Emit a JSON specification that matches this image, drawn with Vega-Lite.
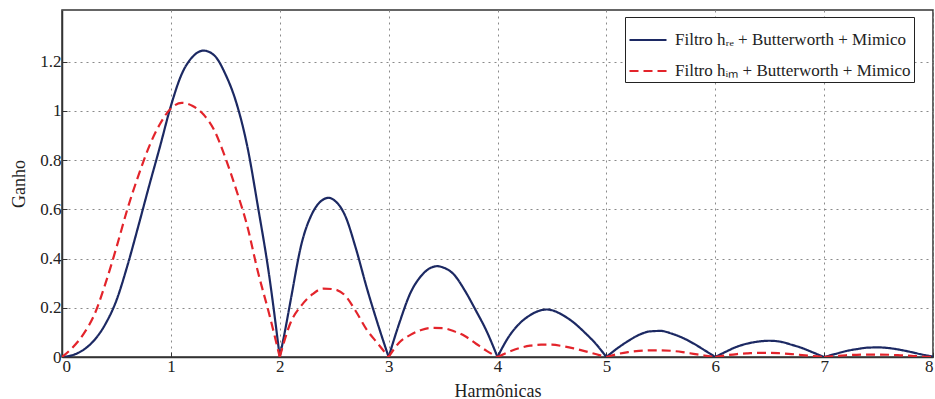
{
  "$schema": "https://vega.github.io/schema/vega-lite/v6.json",
  "width": 871,
  "height": 347,
  "padding": {"left": 62, "top": 10, "right": 2, "bottom": 42},
  "autosize": {"type": "none"},
  "background": "white",
  "config": {
    "font": "Liberation Serif",
    "view": {"stroke": "#333333", "strokeWidth": 1.5},
    "axis": {
      "labelFont": "Liberation Serif",
      "titleFont": "Liberation Serif",
      "labelFontSize": 17,
      "titleFontSize": 18,
      "titleFontWeight": "normal",
      "labelColor": "#222222",
      "titleColor": "#222222",
      "domainColor": "#333333",
      "domainWidth": 1.5,
      "tickColor": "#333333",
      "tickSize": -5,
      "gridColor": "#8a8a8a",
      "gridDash": [2, 4],
      "gridWidth": 1
    }
  },
  "data": {
    "values": [
      {"h": 0.0, "g": 0.0, "s": "re", "k": 1}, {"h": 0.1, "g": 0.008, "s": "re", "k": 1}, {"h": 0.2, "g": 0.03, "s": "re", "k": 1}, {"h": 0.3, "g": 0.07, "s": "re", "k": 1}, {"h": 0.4, "g": 0.135, "s": "re", "k": 1},
      {"h": 0.5, "g": 0.23, "s": "re", "k": 1}, {"h": 0.6, "g": 0.37, "s": "re", "k": 1}, {"h": 0.7, "g": 0.53, "s": "re", "k": 1}, {"h": 0.8, "g": 0.695, "s": "re", "k": 1}, {"h": 0.9, "g": 0.855, "s": "re", "k": 1},
      {"h": 1.0, "g": 1.02, "s": "re", "k": 1}, {"h": 1.1, "g": 1.15, "s": "re", "k": 1}, {"h": 1.2, "g": 1.22, "s": "re", "k": 1}, {"h": 1.3, "g": 1.245, "s": "re", "k": 1}, {"h": 1.4, "g": 1.225, "s": "re", "k": 1},
      {"h": 1.5, "g": 1.15, "s": "re", "k": 1}, {"h": 1.6, "g": 1.035, "s": "re", "k": 1}, {"h": 1.7, "g": 0.86, "s": "re", "k": 1}, {"h": 1.8, "g": 0.61, "s": "re", "k": 1}, {"h": 1.9, "g": 0.34, "s": "re", "k": 1},
      {"h": 2.0, "g": 0.0, "s": "re", "k": 1},
      {"h": 2.0, "g": 0.0, "s": "re", "k": 2}, {"h": 2.05, "g": 0.11, "s": "re", "k": 2}, {"h": 2.1, "g": 0.23, "s": "re", "k": 2}, {"h": 2.2, "g": 0.46, "s": "re", "k": 2}, {"h": 2.3, "g": 0.585, "s": "re", "k": 2},
      {"h": 2.4, "g": 0.64, "s": "re", "k": 2}, {"h": 2.45, "g": 0.647, "s": "re", "k": 2}, {"h": 2.5, "g": 0.637, "s": "re", "k": 2}, {"h": 2.6, "g": 0.575, "s": "re", "k": 2}, {"h": 2.7, "g": 0.44, "s": "re", "k": 2},
      {"h": 2.8, "g": 0.28, "s": "re", "k": 2}, {"h": 2.9, "g": 0.135, "s": "re", "k": 2}, {"h": 3.0, "g": 0.0, "s": "re", "k": 2},
      {"h": 3.0, "g": 0.0, "s": "re", "k": 3}, {"h": 3.1, "g": 0.14, "s": "re", "k": 3}, {"h": 3.2, "g": 0.26, "s": "re", "k": 3},
      {"h": 3.3, "g": 0.33, "s": "re", "k": 3}, {"h": 3.4, "g": 0.365, "s": "re", "k": 3}, {"h": 3.45, "g": 0.369, "s": "re", "k": 3}, {"h": 3.5, "g": 0.364, "s": "re", "k": 3}, {"h": 3.6, "g": 0.335, "s": "re", "k": 3},
      {"h": 3.7, "g": 0.27, "s": "re", "k": 3}, {"h": 3.8, "g": 0.19, "s": "re", "k": 3}, {"h": 3.9, "g": 0.105, "s": "re", "k": 3}, {"h": 4.0, "g": 0.0, "s": "re", "k": 3},
      {"h": 4.0, "g": 0.0, "s": "re", "k": 4}, {"h": 4.1, "g": 0.08, "s": "re", "k": 4},
      {"h": 4.2, "g": 0.135, "s": "re", "k": 4}, {"h": 4.3, "g": 0.17, "s": "re", "k": 4}, {"h": 4.4, "g": 0.19, "s": "re", "k": 4}, {"h": 4.45, "g": 0.193, "s": "re", "k": 4}, {"h": 4.5, "g": 0.19, "s": "re", "k": 4},
      {"h": 4.6, "g": 0.17, "s": "re", "k": 4}, {"h": 4.7, "g": 0.14, "s": "re", "k": 4}, {"h": 4.8, "g": 0.1, "s": "re", "k": 4}, {"h": 4.9, "g": 0.055, "s": "re", "k": 4}, {"h": 5.0, "g": 0.0, "s": "re", "k": 4},
      {"h": 5.0, "g": 0.0, "s": "re", "k": 5}, {"h": 5.1, "g": 0.035, "s": "re", "k": 5}, {"h": 5.2, "g": 0.065, "s": "re", "k": 5}, {"h": 5.3, "g": 0.09, "s": "re", "k": 5}, {"h": 5.4, "g": 0.104, "s": "re", "k": 5}, {"h": 5.5, "g": 0.106, "s": "re", "k": 5},
      {"h": 5.6, "g": 0.095, "s": "re", "k": 5}, {"h": 5.7, "g": 0.078, "s": "re", "k": 5}, {"h": 5.8, "g": 0.055, "s": "re", "k": 5}, {"h": 5.9, "g": 0.028, "s": "re", "k": 5}, {"h": 6.0, "g": 0.0, "s": "re", "k": 5},
      {"h": 6.0, "g": 0.0, "s": "re", "k": 6}, {"h": 6.1, "g": 0.022, "s": "re", "k": 6}, {"h": 6.2, "g": 0.042, "s": "re", "k": 6}, {"h": 6.3, "g": 0.055, "s": "re", "k": 6}, {"h": 6.4, "g": 0.063, "s": "re", "k": 6}, {"h": 6.5, "g": 0.066, "s": "re", "k": 6},
      {"h": 6.6, "g": 0.062, "s": "re", "k": 6}, {"h": 6.7, "g": 0.05, "s": "re", "k": 6}, {"h": 6.8, "g": 0.036, "s": "re", "k": 6}, {"h": 6.9, "g": 0.018, "s": "re", "k": 6}, {"h": 7.0, "g": 0.0, "s": "re", "k": 6},
      {"h": 7.0, "g": 0.0, "s": "re", "k": 7}, {"h": 7.1, "g": 0.012, "s": "re", "k": 7}, {"h": 7.2, "g": 0.024, "s": "re", "k": 7}, {"h": 7.3, "g": 0.032, "s": "re", "k": 7}, {"h": 7.4, "g": 0.038, "s": "re", "k": 7}, {"h": 7.5, "g": 0.039, "s": "re", "k": 7},
      {"h": 7.6, "g": 0.036, "s": "re", "k": 7}, {"h": 7.7, "g": 0.029, "s": "re", "k": 7}, {"h": 7.8, "g": 0.02, "s": "re", "k": 7}, {"h": 7.9, "g": 0.01, "s": "re", "k": 7}, {"h": 8.0, "g": 0.002, "s": "re", "k": 7},

      {"h": 0.0, "g": 0.0, "s": "im", "k": 1}, {"h": 0.1, "g": 0.04, "s": "im", "k": 1}, {"h": 0.2, "g": 0.095, "s": "im", "k": 1}, {"h": 0.3, "g": 0.175, "s": "im", "k": 1}, {"h": 0.4, "g": 0.3, "s": "im", "k": 1},
      {"h": 0.5, "g": 0.445, "s": "im", "k": 1}, {"h": 0.6, "g": 0.6, "s": "im", "k": 1}, {"h": 0.7, "g": 0.735, "s": "im", "k": 1}, {"h": 0.8, "g": 0.855, "s": "im", "k": 1}, {"h": 0.9, "g": 0.947, "s": "im", "k": 1},
      {"h": 1.0, "g": 1.01, "s": "im", "k": 1}, {"h": 1.1, "g": 1.033, "s": "im", "k": 1}, {"h": 1.2, "g": 1.02, "s": "im", "k": 1}, {"h": 1.3, "g": 0.985, "s": "im", "k": 1}, {"h": 1.4, "g": 0.92, "s": "im", "k": 1},
      {"h": 1.5, "g": 0.81, "s": "im", "k": 1}, {"h": 1.6, "g": 0.68, "s": "im", "k": 1}, {"h": 1.7, "g": 0.535, "s": "im", "k": 1}, {"h": 1.8, "g": 0.345, "s": "im", "k": 1}, {"h": 1.9, "g": 0.18, "s": "im", "k": 1},
      {"h": 2.0, "g": 0.0, "s": "im", "k": 1},
      {"h": 2.0, "g": 0.0, "s": "im", "k": 2}, {"h": 2.1, "g": 0.14, "s": "im", "k": 2}, {"h": 2.2, "g": 0.21, "s": "im", "k": 2}, {"h": 2.3, "g": 0.255, "s": "im", "k": 2}, {"h": 2.4, "g": 0.278, "s": "im", "k": 2},
      {"h": 2.5, "g": 0.275, "s": "im", "k": 2}, {"h": 2.6, "g": 0.25, "s": "im", "k": 2}, {"h": 2.7, "g": 0.185, "s": "im", "k": 2}, {"h": 2.8, "g": 0.11, "s": "im", "k": 2}, {"h": 2.9, "g": 0.055, "s": "im", "k": 2},
      {"h": 3.0, "g": 0.0, "s": "im", "k": 2},
      {"h": 3.0, "g": 0.0, "s": "im", "k": 3}, {"h": 3.1, "g": 0.06, "s": "im", "k": 3}, {"h": 3.2, "g": 0.09, "s": "im", "k": 3}, {"h": 3.3, "g": 0.11, "s": "im", "k": 3}, {"h": 3.4, "g": 0.118, "s": "im", "k": 3},
      {"h": 3.5, "g": 0.117, "s": "im", "k": 3}, {"h": 3.6, "g": 0.105, "s": "im", "k": 3}, {"h": 3.7, "g": 0.085, "s": "im", "k": 3}, {"h": 3.8, "g": 0.055, "s": "im", "k": 3}, {"h": 3.9, "g": 0.025, "s": "im", "k": 3},
      {"h": 4.0, "g": 0.0, "s": "im", "k": 3},
      {"h": 4.0, "g": 0.0, "s": "im", "k": 4}, {"h": 4.1, "g": 0.02, "s": "im", "k": 4}, {"h": 4.2, "g": 0.036, "s": "im", "k": 4}, {"h": 4.3, "g": 0.046, "s": "im", "k": 4}, {"h": 4.4, "g": 0.05, "s": "im", "k": 4},
      {"h": 4.5, "g": 0.05, "s": "im", "k": 4}, {"h": 4.6, "g": 0.044, "s": "im", "k": 4}, {"h": 4.7, "g": 0.035, "s": "im", "k": 4}, {"h": 4.8, "g": 0.024, "s": "im", "k": 4}, {"h": 4.9, "g": 0.012, "s": "im", "k": 4},
      {"h": 5.0, "g": 0.0, "s": "im", "k": 4},
      {"h": 5.0, "g": 0.0, "s": "im", "k": 5}, {"h": 5.1, "g": 0.012, "s": "im", "k": 5}, {"h": 5.2, "g": 0.02, "s": "im", "k": 5}, {"h": 5.3, "g": 0.025, "s": "im", "k": 5}, {"h": 5.4, "g": 0.027, "s": "im", "k": 5},
      {"h": 5.5, "g": 0.027, "s": "im", "k": 5}, {"h": 5.6, "g": 0.025, "s": "im", "k": 5}, {"h": 5.7, "g": 0.02, "s": "im", "k": 5}, {"h": 5.8, "g": 0.013, "s": "im", "k": 5}, {"h": 5.9, "g": 0.006, "s": "im", "k": 5},
      {"h": 6.0, "g": 0.0, "s": "im", "k": 5},
      {"h": 6.0, "g": 0.0, "s": "im", "k": 6}, {"h": 6.1, "g": 0.007, "s": "im", "k": 6}, {"h": 6.2, "g": 0.012, "s": "im", "k": 6}, {"h": 6.3, "g": 0.015, "s": "im", "k": 6}, {"h": 6.4, "g": 0.017, "s": "im", "k": 6},
      {"h": 6.5, "g": 0.017, "s": "im", "k": 6}, {"h": 6.6, "g": 0.015, "s": "im", "k": 6}, {"h": 6.7, "g": 0.012, "s": "im", "k": 6}, {"h": 6.8, "g": 0.008, "s": "im", "k": 6}, {"h": 6.9, "g": 0.004, "s": "im", "k": 6},
      {"h": 7.0, "g": 0.0, "s": "im", "k": 6},
      {"h": 7.0, "g": 0.0, "s": "im", "k": 7}, {"h": 7.1, "g": 0.004, "s": "im", "k": 7}, {"h": 7.2, "g": 0.007, "s": "im", "k": 7}, {"h": 7.3, "g": 0.009, "s": "im", "k": 7}, {"h": 7.4, "g": 0.01, "s": "im", "k": 7},
      {"h": 7.5, "g": 0.01, "s": "im", "k": 7}, {"h": 7.6, "g": 0.009, "s": "im", "k": 7}, {"h": 7.7, "g": 0.007, "s": "im", "k": 7}, {"h": 7.8, "g": 0.005, "s": "im", "k": 7}, {"h": 7.9, "g": 0.002, "s": "im", "k": 7},
      {"h": 8.0, "g": 0.0, "s": "im", "k": 7}
    ]
  },
  "mark": {"type": "line", "strokeWidth": 2.2, "clip": true, "interpolate": "monotone"},
  "encoding": {
    "x": {
      "field": "h",
      "type": "quantitative",
      "title": "Harmônicas",
      "scale": {"domain": [0, 8], "nice": false, "zero": false},
      "axis": {"values": [0, 1, 2, 3, 4, 5, 6, 7, 8], "format": "d", "labelPadding": 6, "titlePadding": 8, "grid": true}
    },
    "y": {
      "field": "g",
      "type": "quantitative",
      "title": "Ganho",
      "scale": {"domain": [0, 1.41], "nice": false},
      "axis": {"values": [0, 0.2, 0.4, 0.6, 0.8, 1, 1.2], "format": "~g", "labelPadding": 6, "titlePadding": 11, "grid": true}
    },
    "detail": {"field": "k", "type": "nominal"},
    "order": {"field": "h", "type": "quantitative"},
    "color": {
      "field": "s",
      "type": "nominal",
      "scale": {"domain": ["re", "im"], "range": ["#1c2963", "#e3242b"]},
      "legend": {
        "title": null,
        "orient": "none",
        "legendX": 563,
        "legendY": 7,
        "direction": "vertical",
        "fillColor": "white",
        "strokeColor": "#222222",
        "padding": 3,
        "symbolType": "stroke",
        "symbolSize": 1369,
        "symbolStrokeWidth": 2.2,
        "rowPadding": 3,
        "labelFont": "Liberation Serif",
        "labelFontSize": 17,
        "labelColor": "#222222",
        "labelLimit": 400,
        "labelOffset": 7,
        "labelExpr": "datum.label == 're' ? 'Filtro hᵣₑ + Butterworth + Mimico' : 'Filtro hᵢₘ + Butterworth + Mimico'"
      }
    },
    "strokeDash": {
      "field": "s",
      "type": "nominal",
      "scale": {"domain": ["re", "im"], "range": [[1, 0], [9, 5]]},
      "legend": {
        "title": null,
        "orient": "none",
        "legendX": 563,
        "legendY": 7,
        "symbolType": "stroke",
        "symbolSize": 1369,
        "labelExpr": "datum.label == 're' ? 'Filtro hᵣₑ + Butterworth + Mimico' : 'Filtro hᵢₘ + Butterworth + Mimico'"
      }
    }
  }
}
